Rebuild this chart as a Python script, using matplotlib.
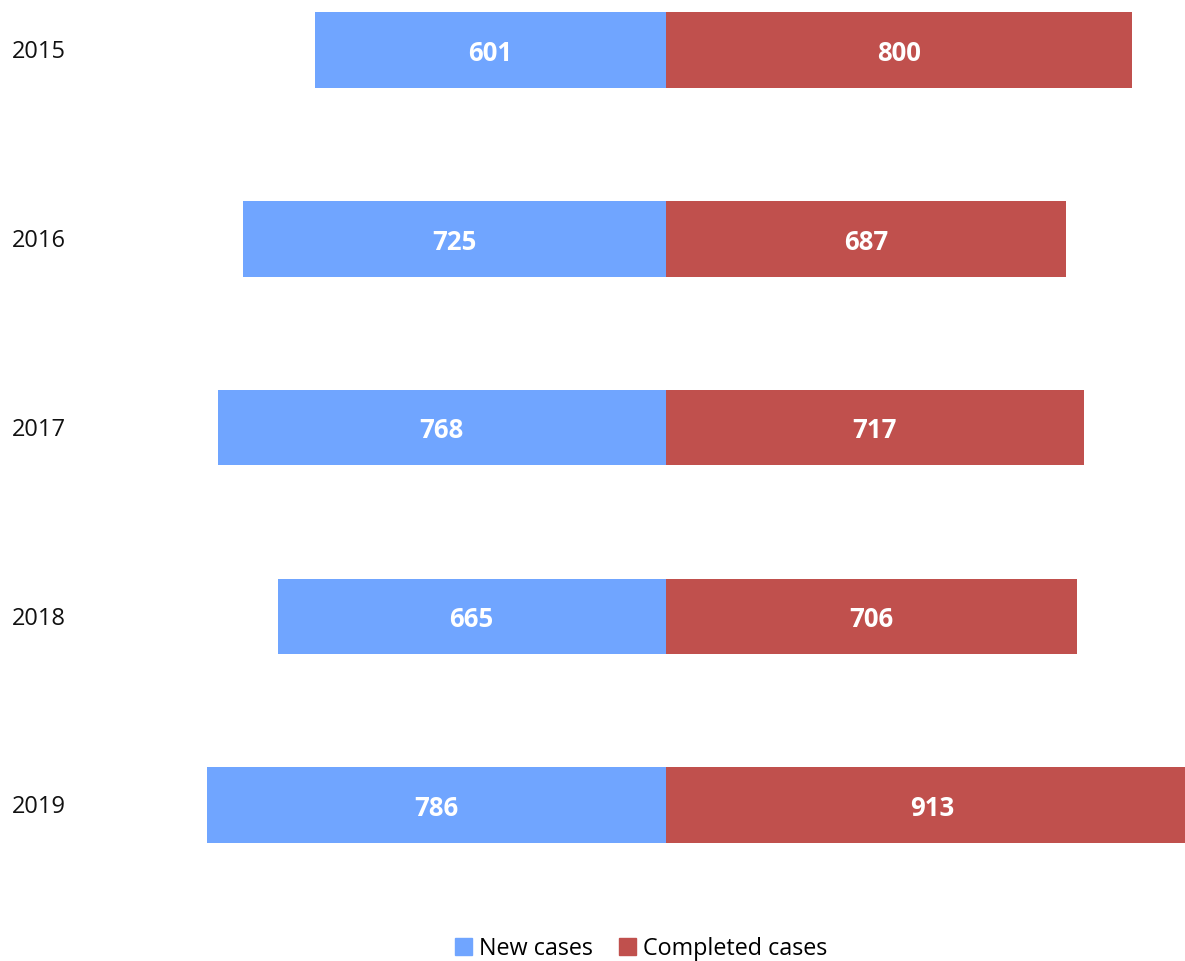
import numpy as np
import matplotlib.pyplot as plt
from matplotlib.transforms import blended_transform_factory
from matplotlib.patches import Patch

plt.rcParams['font.family'] = ['Open Sans', 'DejaVu Sans']

years = ['2015', '2016', '2017', '2018', '2019']
new_cases = [601, 725, 768, 665, 786]
completed_cases = [800, 687, 717, 706, 913]

blue = '#70a5ff'
red = '#c0504d'

fig = plt.figure(figsize=(11.85, 9.61), dpi=100)
ax = fig.add_axes([0, 0, 1, 1])

y = np.arange(len(years))
ax.barh(y, [-v for v in new_cases], height=0.4, color=blue)
ax.barh(y, completed_cases, height=0.4, color=red)

# value labels sit a touch below the bar middle
dy = 0.018
for yi, n, c in zip(y, new_cases, completed_cases):
    ax.text(-n / 2, yi + dy, str(n), ha='center', va='center',
            color='white', fontsize=18.5, fontweight='bold')
    ax.text(c / 2, yi + dy, str(c), ha='center', va='center',
            color='white', fontsize=18.5, fontweight='bold')

trans = blended_transform_factory(ax.transAxes, ax.transData)
for yi, label in zip(y, years):
    ax.text(0.01, yi + 0.012, label, transform=trans, ha='left', va='center',
            fontsize=17, color='#111111')

ax.set_xlim(-1141.4, 890.5)
ax.set_ylim(4.826, -0.265)
ax.axis('off')

handles = [Patch(color=blue, label='New cases'),
           Patch(color=red, label='Completed cases')]
fig.legend(handles=handles, loc='center', bbox_to_anchor=(0.541, 1 - 949 / 961),
           ncol=2, frameon=False, fontsize=16.8, handlelength=0.75,
           handleheight=0.75, handletextpad=0.3, columnspacing=1.1)

fig.savefig('out.png', dpi=100)
